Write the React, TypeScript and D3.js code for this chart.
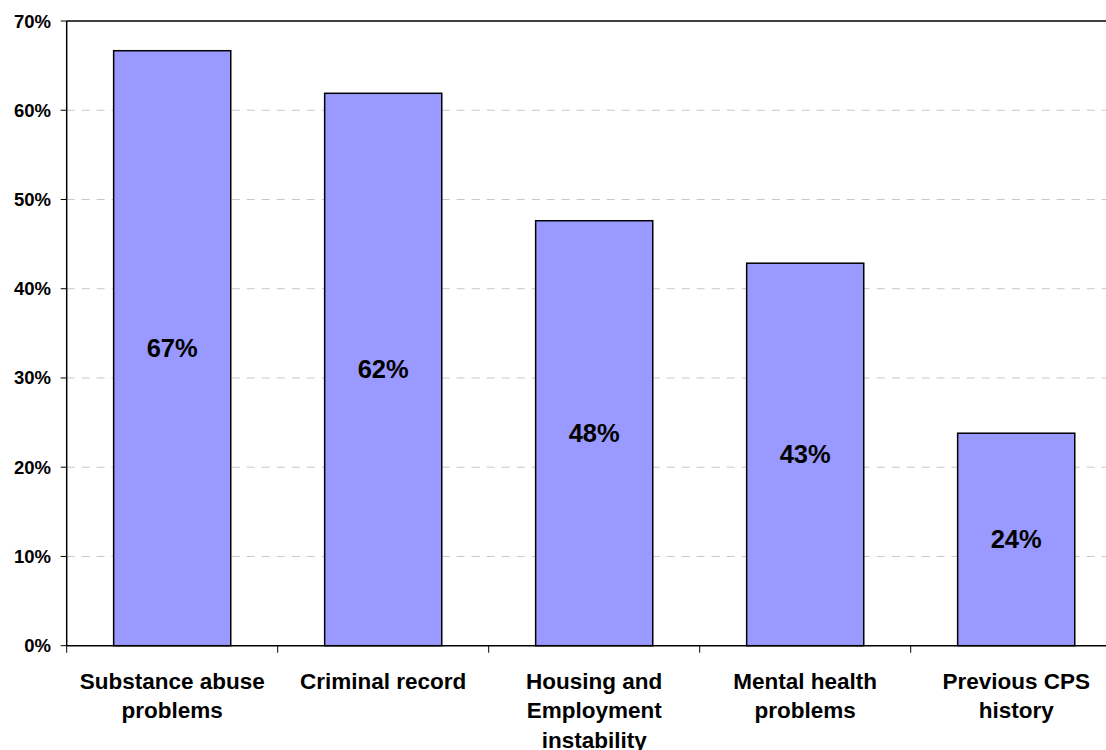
import React from "react";
import * as d3 from "d3";

const categories: string[][] = [
  ["Substance abuse", "problems"],
  ["Criminal record"],
  ["Housing and", "Employment", "instability"],
  ["Mental health", "problems"],
  ["Previous CPS", "history"],
];
const values: number[] = [0.6667, 0.619, 0.4762, 0.4286, 0.2381];
const valueLabels: string[] = ["67%", "62%", "48%", "43%", "24%"];
const yTicks: number[] = [0, 0.1, 0.2, 0.3, 0.4, 0.5, 0.6, 0.7];

const W = 1106;
const H = 750;
const left = 66.7;
const top = 21;
const bottom = 645.7;
const band = 211;
const right = left + band * categories.length;
const font = "'Liberation Sans', Arial, sans-serif";

export default function App() {
  const x = d3
    .scaleBand<number>()
    .domain(d3.range(categories.length))
    .range([left, right])
    .paddingInner(0.445)
    .paddingOuter(0.2225);
  const y = d3.scaleLinear().domain([0, 0.7]).range([bottom, top]);
  const fmt = d3.format(".0%");

  return (
    <svg
      width={W}
      height={H}
      style={{ position: "absolute", left: 0, top: 0, background: "#fff" }}
      fontFamily={font}
    >
      {yTicks
        .filter((t) => t > 0 && t < 0.7)
        .map((t) => (
          <line
            key={"g" + t}
            x1={left}
            x2={right}
            y1={y(t)}
            y2={y(t)}
            stroke="#c8c8c8"
            strokeWidth={1}
            strokeDasharray="8,7"
          />
        ))}
      <line x1={left} x2={right} y1={top} y2={top} stroke="#000" strokeWidth={1.5} />
      {values.map((v, i) => (
        <rect
          key={"b" + i}
          x={x(i)}
          y={y(v)}
          width={x.bandwidth()}
          height={y(0) - y(v)}
          fill="#9999ff"
          stroke="#000"
          strokeWidth={1.5}
        />
      ))}
      {values.map((v, i) => (
        <text
          key={"v" + i}
          x={(x(i) as number) + x.bandwidth() / 2}
          y={(y(v) + y(0)) / 2}
          textAnchor="middle"
          dominantBaseline="central"
          fontSize={25.5}
          fontWeight="bold"
          fill="#000"
        >
          {valueLabels[i]}
        </text>
      ))}
      <line x1={left} x2={left} y1={top} y2={bottom} stroke="#000" strokeWidth={1.5} />
      <line x1={left} x2={right} y1={bottom} y2={bottom} stroke="#000" strokeWidth={1.5} />
      {yTicks.map((t) => (
        <g key={"y" + t}>
          <line x1={left - 6} x2={left} y1={y(t)} y2={y(t)} stroke="#000" strokeWidth={1} />
          <text
            x={51}
            y={y(t)}
            textAnchor="end"
            dominantBaseline="central"
            fontSize={18.5}
            fontWeight="bold"
            fill="#000"
          >
            {fmt(t)}
          </text>
        </g>
      ))}
      {d3.range(categories.length + 1).map((i) => (
        <line
          key={"xt" + i}
          x1={left + band * i}
          x2={left + band * i}
          y1={bottom}
          y2={bottom + 7}
          stroke="#000"
          strokeWidth={1}
        />
      ))}
      {categories.map((lines, i) => (
        <text
          key={"c" + i}
          x={(x(i) as number) + x.bandwidth() / 2}
          y={688.5}
          textAnchor="middle"
          fontSize={22.5}
          fontWeight="bold"
          fill="#000"
        >
          {lines.map((l, j) => (
            <tspan key={j} x={(x(i) as number) + x.bandwidth() / 2} dy={j === 0 ? 0 : 29.8}>
              {l}
            </tspan>
          ))}
        </text>
      ))}
    </svg>
  );
}
